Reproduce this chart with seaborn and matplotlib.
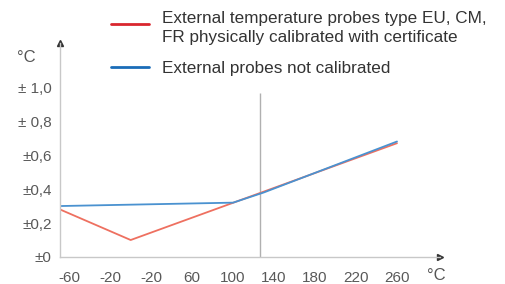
import numpy as np
import pandas as pd
import seaborn as sns
import matplotlib
matplotlib.use("Agg")
import matplotlib.pyplot as plt

# data
red_x = [-69, 0, 260]
red_y = [0.28, 0.10, 0.67]
blue_x = [-69, 100, 130, 260]
blue_y = [0.30, 0.32, 0.38, 0.68]

x_ticks = [-60, -20, 20, 60, 100, 140, 180, 220, 260]
x_labels = ["-60", "-20", "-20", "60", "100", "140", "180", "220", "260"]
y_ticks = [0, 0.2, 0.4, 0.6, 0.8, 1.0]
y_labels = ["±0", "±0,2", "±0,4", "±0,6", "± 0,8", "± 1,0"]

red_label = "External temperature probes type EU, CM,\nFR physically calibrated with certificate"
blue_label = "External probes not calibrated"

sns.set_theme(style="white")
plt.rcParams["font.family"] = ["Liberation Sans", "DejaVu Sans"]

df = pd.concat([
    pd.DataFrame({"x": red_x, "y": red_y, "s": red_label}),
    pd.DataFrame({"x": blue_x, "y": blue_y, "s": blue_label}),
])

fig = plt.figure(figsize=(5.06, 2.84), dpi=100)
ax = fig.add_axes([60 / 506, 27 / 284, 380 / 506, 214 / 284])

ax.vlines(126, 0, 0.965, color="#b0b0b0", lw=1)

sns.lineplot(data=df, x="x", y="y", hue="s", sort=False, ax=ax,
             palette={red_label: "#ee7060", blue_label: "#4a92d0"}, lw=1.3,
             legend=False)

ax.set_xlim(-69, 302)
ax.set_ylim(0, 1.26)
ax.set_xticks(x_ticks)
ax.set_xticklabels(x_labels)
ax.set_yticks(y_ticks)
ax.set_yticklabels(y_labels)
ax.set_xlabel("")
ax.set_ylabel("")

for side in ["top", "right"]:
    ax.spines[side].set_visible(False)
for side in ["left", "bottom"]:
    ax.spines[side].set_color("#c8c8c8")
    ax.spines[side].set_linewidth(1)

ax.tick_params(axis="both", which="both", direction="inout", length=14,
               width=1, color="#cccccc", labelcolor="#595959", labelsize=11)
ax.tick_params(axis="x", pad=3)
ax.tick_params(axis="y", length=12, pad=0)

# axis arrows
ax.plot(1, 0, ">", color="#333333", ms=4, transform=ax.transAxes, clip_on=False)
ax.plot(0, 1, "^", color="#333333", ms=4, transform=ax.transAxes, clip_on=False)

fig.text(17 / 506, 1 - 57 / 284, "°C", fontsize=12, color="#555555", va="center")
fig.text(427 / 506, 1 - 276 / 284, "°C", fontsize=12, color="#555555", va="center")

# legend
fig.lines.append(plt.Line2D([111 / 506, 149 / 506], [1 - 24 / 284] * 2,
                            transform=fig.transFigure, color="#d9262e", lw=2))
fig.lines.append(plt.Line2D([111 / 506, 149 / 506], [1 - 67 / 284] * 2,
                            transform=fig.transFigure, color="#1a6cb8", lw=2))
fig.text(162 / 506, 1 - 28 / 284, red_label, fontsize=12.3, color="#333333",
         va="center", linespacing=1.4)
fig.text(162 / 506, 1 - 69 / 284, blue_label, fontsize=12.3, color="#333333",
         va="center")

fig.savefig("out.png", dpi=100)
